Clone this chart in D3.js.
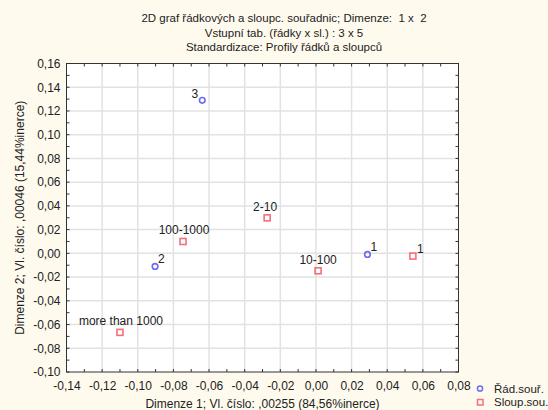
<!DOCTYPE html>
<html>
<head>
<meta charset="utf-8">
<script src="https://cdn.jsdelivr.net/npm/d3@7"></script>
<style>
  html, body { margin: 0; padding: 0; background: #fffaee; }
  svg { display: block; font-family: "Liberation Sans", Arial, sans-serif; }
</style>
</head>
<body>
<svg id="chart" width="548" height="410"></svg>
<script>
// Row coordinates (Řád.souř.)
const rowLabels = ["1", "2", "3"];
const rowDim1 = [0.0289, -0.0903, -0.0638];
const rowDim2 = [-0.0009, -0.0110, 0.1290];

// Column coordinates (Sloup.sou.)
const colLabels = ["1", "2-10", "10-100", "100-1000", "more than 1000"];
const colDim1 = [0.0544, -0.0274, 0.0012, -0.0746, -0.1100];
const colDim2 = [-0.0023, 0.0299, -0.0147, 0.0100, -0.0666];

const xTicks = [-0.14, -0.12, -0.10, -0.08, -0.06, -0.04, -0.02, 0.00, 0.02, 0.04, 0.06, 0.08];
const yTicks = [-0.10, -0.08, -0.06, -0.04, -0.02, 0.00, 0.02, 0.04, 0.06, 0.08, 0.10, 0.12, 0.14, 0.16];

const titleLines = [
  "2D graf řádkových a sloupc. souřadnic; Dimenze:  1 x  2",
  "Vstupní tab. (řádky x sl.) : 3 x 5",
  "Standardizace: Profily řádků a sloupců"
];
const xTitle = "Dimenze 1; Vl. číslo: ,00255 (84,56%inerce)";
const yTitle = "Dimenze 2; Vl. číslo: ,00046 (15,44%inerce)";
const legendNames = ["Řád.souř.", "Sloup.sou."];

const blue = "#6b6bf2";
const red = "#f2707c";
const fmt = v => d3.format(".2f")(v).replace(".", ",").replace("−", "-");

const svg = d3.select("#chart");
const plot = { left: 66.5, right: 458.5, top: 63.5, bottom: 372 };

const x = d3.scaleLinear().domain([-0.14, 0.08]).range([plot.left, plot.right]);
const y = d3.scaleLinear().domain([-0.10, 0.16]).range([plot.bottom, plot.top]);

// plot background
svg.append("rect")
  .attr("x", plot.left).attr("y", plot.top)
  .attr("width", plot.right - plot.left).attr("height", plot.bottom - plot.top)
  .attr("fill", "#ffffff");

// grid
const grid = svg.append("g").attr("stroke", "#e2e2e2").attr("stroke-width", 1.5);
xTicks.slice(1, -1).forEach(t => grid.append("line")
  .attr("x1", x(t)).attr("x2", x(t)).attr("y1", plot.top).attr("y2", plot.bottom));
yTicks.slice(1, -1).forEach(t => grid.append("line")
  .attr("x1", plot.left).attr("x2", plot.right).attr("y1", y(t)).attr("y2", y(t)));

// inward ticks on all four sides, every 0.01
const minorX = d3.range(-140, 81, 10).map(v => v / 1000);
const minorY = d3.range(-100, 161, 10).map(v => v / 1000);
const tickLen = 3;
const tg = svg.append("g").attr("stroke", "#333").attr("stroke-width", 1);
minorX.forEach(t => {
  tg.append("line").attr("x1", x(t)).attr("x2", x(t)).attr("y1", plot.top).attr("y2", plot.top + tickLen);
  tg.append("line").attr("x1", x(t)).attr("x2", x(t)).attr("y1", plot.bottom).attr("y2", plot.bottom - tickLen);
});
minorY.forEach(t => {
  tg.append("line").attr("x1", plot.left).attr("x2", plot.left + tickLen).attr("y1", y(t)).attr("y2", y(t));
  tg.append("line").attr("x1", plot.right).attr("x2", plot.right - tickLen).attr("y1", y(t)).attr("y2", y(t));
});

// frame
svg.append("rect")
  .attr("x", plot.left).attr("y", plot.top)
  .attr("width", plot.right - plot.left).attr("height", plot.bottom - plot.top)
  .attr("fill", "none").attr("stroke", "#333").attr("stroke-width", 1);

// axes (labels only; ticks drawn above)
const xAxis = svg.append("g")
  .attr("transform", `translate(0,${plot.bottom})`)
  .call(d3.axisBottom(x).tickValues(xTicks).tickFormat(fmt).tickSize(0).tickPadding(9));
const yAxis = svg.append("g")
  .attr("transform", `translate(${plot.left},0)`)
  .call(d3.axisLeft(y).tickValues(yTicks).tickFormat(fmt).tickSize(0).tickPadding(6));
[xAxis, yAxis].forEach(a => {
  a.select(".domain").remove();
  a.selectAll("text").attr("fill", "#222").style("font-size", "12px")
    .style("font-family", "'Liberation Sans', Arial, sans-serif");
});

// titles
svg.append("g").selectAll("text").data(titleLines).join("text")
  .attr("x", 284).attr("y", (d, i) => 22 + i * 14.5)
  .attr("text-anchor", "middle").attr("fill", "#222").style("font-size", "11.5px")
  .style("white-space", "pre")
  .text(d => d);

svg.append("text")
  .attr("x", (plot.left + plot.right) / 2).attr("y", 408)
  .attr("text-anchor", "middle").attr("fill", "#222").style("font-size", "12px")
  .text(xTitle);

svg.append("text")
  .attr("transform", `translate(24,${(plot.top + plot.bottom) / 2}) rotate(-90)`)
  .attr("text-anchor", "middle").attr("fill", "#222").style("font-size", "12px")
  .text(yTitle);

// point label placement: [dx, dy, anchor]
const placeRow = { "1": [3, -3, "start"], "2": [3, -3, "start"], "3": [-4, -2, "end"] };
const placeCol = { "1": [4, -3, "start"], "2-10": [-2, -7, "middle"], "10-100": [0, -7, "middle"],
                   "100-1000": [1, -7, "middle"], "more than 1000": [1, -7, "middle"] };

const rows = rowLabels.map((l, i) => ({ l, x: rowDim1[i], y: rowDim2[i] }));
const cols = colLabels.map((l, i) => ({ l, x: colDim1[i], y: colDim2[i] }));

const labels = svg.append("g").attr("fill", "#222").style("font-size", "12px");

svg.append("g").selectAll("circle").data(rows).join("circle")
  .attr("cx", d => x(d.x)).attr("cy", d => y(d.y)).attr("r", 2.8)
  .attr("fill", "none").attr("stroke", blue).attr("stroke-width", 1.6);
labels.selectAll("text.r").data(rows).join("text").attr("class", "r")
  .attr("x", d => x(d.x) + placeRow[d.l][0]).attr("y", d => y(d.y) + placeRow[d.l][1])
  .attr("text-anchor", d => placeRow[d.l][2]).text(d => d.l);

svg.append("g").selectAll("rect").data(cols).join("rect")
  .attr("x", d => x(d.x) - 3).attr("y", d => y(d.y) - 3).attr("width", 6).attr("height", 6)
  .attr("fill", "none").attr("stroke", red).attr("stroke-width", 1.6);
labels.selectAll("text.c").data(cols).join("text").attr("class", "c")
  .attr("x", d => x(d.x) + placeCol[d.l][0]).attr("y", d => y(d.y) + placeCol[d.l][1])
  .attr("text-anchor", d => placeCol[d.l][2]).text(d => d.l);

// legend
const lg = svg.append("g").style("font-size", "11.5px").attr("fill", "#222");
lg.append("circle").attr("cx", 480).attr("cy", 388.5).attr("r", 2.6)
  .attr("fill", "none").attr("stroke", blue).attr("stroke-width", 1.5);
lg.append("rect").attr("x", 477.5).attr("y", 399.5).attr("width", 5.5).attr("height", 5.5)
  .attr("fill", "none").attr("stroke", red).attr("stroke-width", 1.5);
lg.append("text").attr("x", 494).attr("y", 392.5).text(legendNames[0]);
lg.append("text").attr("x", 494).attr("y", 406).text(legendNames[1]);
</script>
</body>
</html>
